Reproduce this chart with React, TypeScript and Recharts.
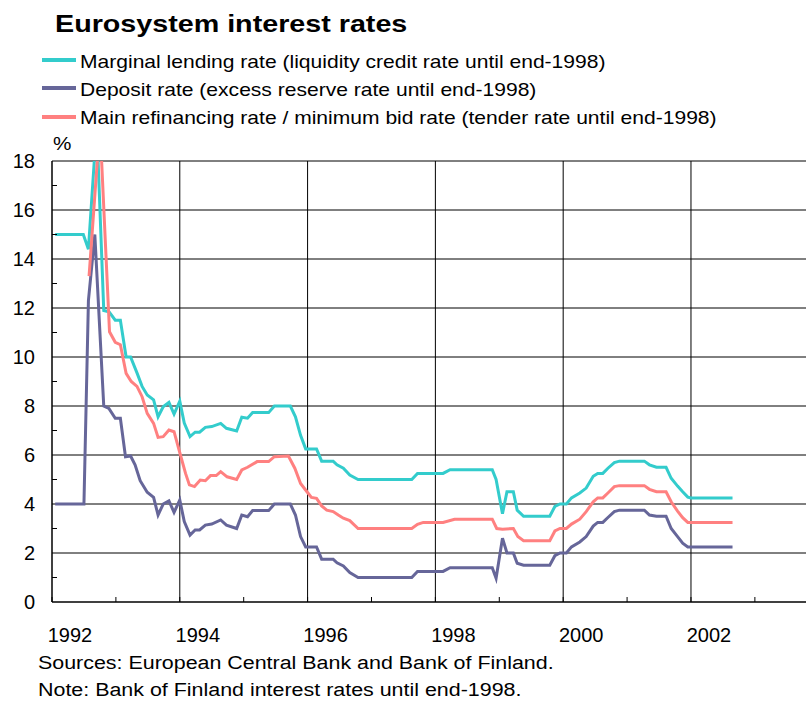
import { CartesianGrid, Line, LineChart, XAxis, YAxis } from "recharts";

// --- series (x = fractional year, y = %) ---
const lendingYears = [
  1992.05, 1992.49, 1992.57, 1992.7, 1992.81, 1992.89, 1992.99, 1993.07, 1993.16, 1993.23,
  1993.33, 1993.41, 1993.49, 1993.59, 1993.66, 1993.74, 1993.83, 1993.91, 1994.0, 1994.07,
  1994.16, 1994.24, 1994.31, 1994.4, 1994.5, 1994.64, 1994.73, 1994.89, 1994.97, 1995.06,
  1995.14, 1995.39, 1995.48, 1995.73, 1995.81, 1995.89, 1995.97, 1996.14, 1996.22, 1996.4,
  1996.46, 1996.56, 1996.66, 1996.79, 1997.63, 1997.72, 1998.12, 1998.23, 1998.89, 1998.95,
  1999.05, 1999.12, 1999.22, 1999.28, 1999.38, 1999.79, 1999.87, 1999.95, 2000.05, 2000.13,
  2000.26, 2000.36, 2000.47, 2000.54, 2000.62, 2000.7, 2000.8, 2000.88, 2001.27, 2001.35,
  2001.46, 2001.61, 2001.69, 2001.79, 2001.87, 2001.95, 2002.0, 2002.65,
];
const lendingRates = [
  15.0, 15.0, 14.4, 19.5, 11.9, 11.85, 11.5, 11.5, 10.0, 10.0,
  9.35, 8.8, 8.45, 8.25, 7.56, 7.97, 8.15, 7.67, 8.2, 7.3,
  6.75, 6.93, 6.93, 7.13, 7.16, 7.29, 7.09, 6.98, 7.54, 7.5,
  7.73, 7.73, 8.0, 8.0, 7.56, 6.8, 6.25, 6.25, 5.75, 5.75,
  5.6, 5.46, 5.18, 5.0, 5.0, 5.25, 5.25, 5.4, 5.4, 5.0,
  3.6, 4.5, 4.5, 3.75, 3.5, 3.5, 3.9, 4.0, 4.0, 4.25,
  4.45, 4.65, 5.13, 5.25, 5.25, 5.46, 5.69, 5.75, 5.75, 5.6,
  5.5, 5.5, 5.05, 4.73, 4.5, 4.28, 4.25, 4.25,
];

const depositYears = [
  1992.05, 1992.5, 1992.57, 1992.67, 1992.81, 1992.89, 1992.99, 1993.07, 1993.15, 1993.23,
  1993.3, 1993.38, 1993.49, 1993.59, 1993.66, 1993.74, 1993.83, 1993.91, 1994.0, 1994.07,
  1994.16, 1994.24, 1994.31, 1994.4, 1994.5, 1994.64, 1994.73, 1994.89, 1994.97, 1995.06,
  1995.14, 1995.39, 1995.48, 1995.73, 1995.81, 1995.89, 1995.97, 1996.14, 1996.22, 1996.4,
  1996.46, 1996.56, 1996.66, 1996.79, 1997.63, 1997.72, 1998.12, 1998.23, 1998.89, 1998.95,
  1999.05, 1999.12, 1999.22, 1999.28, 1999.38, 1999.79, 1999.87, 1999.95, 2000.05, 2000.13,
  2000.26, 2000.36, 2000.47, 2000.54, 2000.62, 2000.7, 2000.8, 2000.88, 2001.27, 2001.35,
  2001.46, 2001.61, 2001.69, 2001.79, 2001.87, 2001.95, 2002.0, 2002.65,
];
const depositRates = [
  4.0, 4.0, 12.3, 15.0, 8.0, 7.9, 7.5, 7.5, 5.93, 5.96,
  5.6, 4.95, 4.48, 4.27, 3.55, 4.0, 4.13, 3.66, 4.16, 3.28,
  2.73, 2.94, 2.94, 3.14, 3.18, 3.35, 3.14, 3.0, 3.55, 3.48,
  3.73, 3.73, 4.0, 4.0, 3.55, 2.67, 2.25, 2.25, 1.75, 1.75,
  1.6, 1.47, 1.2, 1.0, 1.0, 1.25, 1.25, 1.4, 1.4, 0.97,
  2.6, 2.0, 2.0, 1.58, 1.5, 1.5, 1.89, 2.0, 2.0, 2.25,
  2.45, 2.67, 3.1, 3.25, 3.25, 3.45, 3.69, 3.75, 3.75, 3.55,
  3.5, 3.5, 3.0, 2.67, 2.4, 2.25, 2.25, 2.25,
];

const refiYears = [
  1992.58, 1992.75, 1992.9, 1992.99, 1993.07, 1993.16, 1993.24, 1993.33, 1993.41, 1993.49,
  1993.59, 1993.66, 1993.74, 1993.83, 1993.91, 1994.01, 1994.09, 1994.15, 1994.23, 1994.32,
  1994.4, 1994.48, 1994.57, 1994.64, 1994.74, 1994.89, 1994.97, 1995.06, 1995.21, 1995.39,
  1995.48, 1995.7, 1995.8, 1995.89, 1995.99, 1996.06, 1996.14, 1996.22, 1996.3, 1996.4,
  1996.48, 1996.56, 1996.66, 1996.79, 1997.63, 1997.72, 1997.81, 1998.12, 1998.3, 1998.89,
  1998.96, 1999.05, 1999.22, 1999.29, 1999.38, 1999.79, 1999.87, 1999.95, 2000.05, 2000.13,
  2000.26, 2000.36, 2000.47, 2000.54, 2000.62, 2000.7, 2000.8, 2000.88, 2001.27, 2001.35,
  2001.46, 2001.61, 2001.69, 2001.79, 2001.87, 2001.95, 2002.0, 2002.65,
];
const refiRates = [
  13.3, 19.5, 11.03, 10.6, 10.5, 9.33, 9.0, 8.8, 8.38, 7.7,
  7.29, 6.72, 6.75, 7.02, 6.95, 6.0, 5.25, 4.78, 4.71, 4.98,
  4.95, 5.16, 5.16, 5.32, 5.11, 5.0, 5.39, 5.5, 5.73, 5.73,
  5.93, 5.96, 5.46, 4.84, 4.5, 4.27, 4.23, 3.92, 3.75, 3.69,
  3.55, 3.42, 3.32, 3.0, 3.0, 3.17, 3.25, 3.25, 3.38, 3.38,
  3.0, 2.97, 3.0, 2.67, 2.5, 2.5, 2.9, 3.0, 3.0, 3.18,
  3.38, 3.69, 4.09, 4.25, 4.25, 4.45, 4.71, 4.75, 4.75, 4.6,
  4.5, 4.5, 4.09, 3.71, 3.44, 3.25, 3.25, 3.25,
];

const yearTicks = [1992, 1993, 1994, 1995, 1996, 1997, 1998, 1999, 2000, 2001, 2002, 2003];
const gridYears = [1994, 1996, 1998, 2000, 2002];
const rateTicks = [0, 1, 2, 3, 4, 5, 6, 7, 8, 9, 10, 11, 12, 13, 14, 15, 16, 17, 18];
const gridRates = [2, 4, 6, 8, 10, 12, 14, 16, 18];

const legendItems = [
  { label: "Marginal lending rate (liquidity credit rate until end-1998)", color: "#33CCCC" },
  { label: "Deposit rate (excess reserve rate until end-1998)", color: "#666699" },
  { label: "Main refinancing rate / minimum bid rate (tender rate until end-1998)", color: "#FF8080" },
];

const zip = (years: number[], rates: number[]) => years.map((year, i) => ({ year, rate: rates[i] }));
const lendingData = zip(lendingYears, lendingRates);
const depositData = zip(depositYears, depositRates);
const refiData = zip(refiYears, refiRates);

const FONT = "'Liberation Sans', Arial, sans-serif";

// the source text is set a bit wide, so stretch it horizontally
const stretch = (sx: number) => ({ transform: `scaleX(${sx})`, transformOrigin: "left top" });

function XTick({ x, y, payload }: any) {
  const yr = payload.value as number;
  return (
    <g>
      <line x1={x} x2={x} y1={y} y2={y - 5} stroke="#000" />
      {yr % 2 === 0 && (
        <text x={x + 18} y={y + 40} textAnchor="middle" fontSize={20} fill="#000" fontFamily={FONT}>
          {yr}
        </text>
      )}
    </g>
  );
}

function YTick({ x, y, payload }: any) {
  const v = payload.value as number;
  return (
    <g>
      {v % 2 === 1 && <line x1={x} x2={x + 5} y1={y} y2={y} stroke="#000" />}
      {v % 2 === 0 && (
        <text x={x - 17} y={y} dy="0.36em" textAnchor="end" fontSize={20} fill="#000" fontFamily={FONT}>
          {v}
        </text>
      )}
    </g>
  );
}

export default function App() {
  return (
    <div
      style={{
        position: "absolute",
        left: 0,
        top: 0,
        width: 807,
        height: 702,
        background: "#fff",
        overflow: "hidden",
        fontFamily: FONT,
        color: "#000",
      }}
    >
      <div
        style={{
          position: "absolute",
          left: 55,
          top: 12,
          fontSize: 24,
          lineHeight: 1,
          fontWeight: "bold",
          whiteSpace: "nowrap",
          ...stretch(1.195),
        }}
      >
        Eurosystem interest rates
      </div>
      {legendItems.map((item, i) => (
        <div key={item.label}>
          <div
            style={{
              position: "absolute",
              left: 42,
              top: 58 + i * 28.3,
              width: 34,
              height: 4,
              background: item.color,
            }}
          />
          <div
            style={{
              position: "absolute",
              left: 80,
              top: 52.6 + i * 28.3,
              fontSize: 18.5,
              lineHeight: 1,
              whiteSpace: "nowrap",
              ...stretch(1.138),
            }}
          >
            {item.label}
          </div>
        </div>
      ))}
      <div style={{ position: "absolute", left: 53, top: 135, fontSize: 18, lineHeight: 1, ...stretch(1.15) }}>%</div>

      <div style={{ position: "absolute", left: 0, top: 0 }}>
        <LineChart width={807} height={702} margin={{ top: 161, right: 1, bottom: 60, left: 12 }}>
          <CartesianGrid horizontalValues={gridRates} verticalValues={gridYears} stroke="#000" strokeWidth={1} />
          <XAxis
            type="number"
            dataKey="year"
            domain={[1992, 2003.8]}
            ticks={yearTicks}
            interval={0}
            allowDataOverflow
            height={40}
            tickSize={0}
            tickMargin={0}
            tickLine={false}
            axisLine={{ stroke: "#000", strokeWidth: 1.5 }}
            tick={(props: any) => <XTick {...props} />}
          />
          <YAxis
            type="number"
            domain={[0, 18]}
            ticks={rateTicks}
            interval={0}
            allowDataOverflow
            width={40}
            tickSize={0}
            tickMargin={0}
            tickLine={false}
            axisLine={{ stroke: "#000", strokeWidth: 1.5 }}
            tick={(props: any) => <YTick {...props} />}
          />
          <Line data={lendingData} dataKey="rate" type="linear" stroke="#33CCCC" strokeWidth={3} dot={false} isAnimationActive={false} />
          <Line data={depositData} dataKey="rate" type="linear" stroke="#666699" strokeWidth={3} dot={false} isAnimationActive={false} />
          <Line data={refiData} dataKey="rate" type="linear" stroke="#FF8080" strokeWidth={3} dot={false} isAnimationActive={false} />
        </LineChart>
      </div>

      <div style={{ position: "absolute", left: 38, top: 654, fontSize: 18, lineHeight: 1, whiteSpace: "nowrap", ...stretch(1.19) }}>
        Sources: European Central Bank and Bank of Finland.
      </div>
      <div style={{ position: "absolute", left: 38, top: 681, fontSize: 18, lineHeight: 1, whiteSpace: "nowrap", ...stretch(1.19) }}>
        Note: Bank of Finland interest rates until end-1998.
      </div>
    </div>
  );
}
